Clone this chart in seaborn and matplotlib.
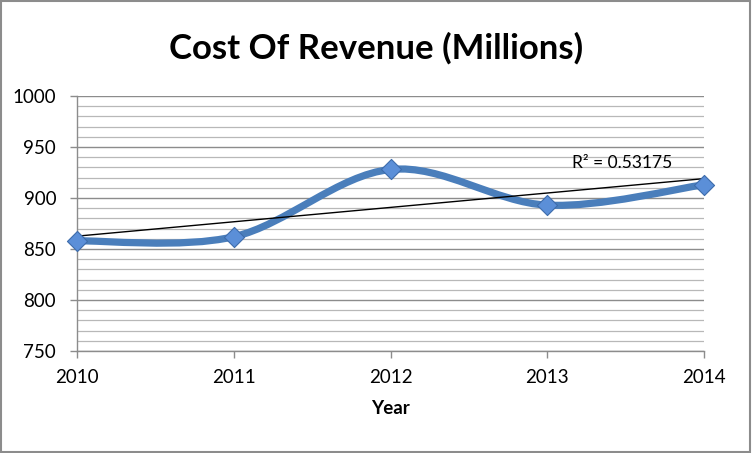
import numpy as np
import pandas as pd
import seaborn as sns
import matplotlib.pyplot as plt
from matplotlib.path import Path
from matplotlib.patches import PathPatch, Rectangle
from matplotlib.ticker import MultipleLocator

years = [2010, 2011, 2012, 2013, 2014]
cost = [858, 862, 928, 893, 913]
r2_label = "R² = 0.53175"

df = pd.DataFrame({"Year": years, "Cost": cost})

sns.set_style("white")
plt.rcParams["font.family"] = ["Lato", "DejaVu Sans"]
plt.rcParams["text.color"] = "black"
plt.rcParams["xtick.color"] = "black"
plt.rcParams["ytick.color"] = "black"
plt.rcParams["axes.labelcolor"] = "black"

fig = plt.figure(figsize=(7.52, 4.53), dpi=100)
ax = fig.add_axes([0.1024, 0.2252, 0.8338, 0.5628])

# grid like the spreadsheet chart
ax.set_ylim(750, 1000)
ax.set_xlim(2010, 2014)
ax.yaxis.set_major_locator(MultipleLocator(50))
ax.yaxis.set_minor_locator(MultipleLocator(10))
ax.set_xticks(years)
ax.grid(which="major", axis="y", color="#8c8c8c", lw=1)
ax.grid(which="minor", axis="y", color="#b8b8b8", lw=0.9)
ax.set_axisbelow(True)

# smoothed line (Catmull-Rom as bezier segments)
pts = np.column_stack([years, cost]).astype(float)
ext = np.vstack([pts[0], pts, pts[-1]])
verts = [tuple(pts[0])]
codes = [Path.MOVETO]
for i in range(len(pts) - 1):
    p0, p1, p2, p3 = ext[i], ext[i + 1], ext[i + 2], ext[i + 3]
    c1 = p1 + (p2 - p0) / 6
    c2 = p2 - (p3 - p1) / 6
    verts += [tuple(c1), tuple(c2), tuple(p2)]
    codes += [Path.CURVE4] * 3
ax.add_patch(PathPatch(Path(verts, codes), fill=False, edgecolor="#4a7ebb",
                       lw=5.2, capstyle="round", joinstyle="round", zorder=3))

# linear trendline
sns.regplot(data=df, x="Year", y="Cost", scatter=False, ci=None, ax=ax,
            line_kws=dict(color="black", lw=1, zorder=4))

sns.scatterplot(data=df, x="Year", y="Cost", marker="D", s=105, color="#5b8fd8",
                edgecolor="#3d6cab", linewidth=0.8, ax=ax, zorder=5, clip_on=False)

ax.text(2013.16, 934, r2_label, fontsize=12.5, ha="left", va="center")

for side in ["top", "right"]:
    ax.spines[side].set_visible(False)
for side in ["left", "bottom"]:
    ax.spines[side].set_color("#8c8c8c")
    ax.spines[side].set_linewidth(1)

ax.tick_params(axis="y", which="major", left=True, length=5, width=1, color="#8c8c8c",
               labelcolor="black", labelsize=13.5, pad=10)
ax.tick_params(axis="y", which="minor", left=False)
ax.tick_params(axis="x", bottom=True, length=5, width=1, color="#8c8c8c",
               labelcolor="black", labelsize=13.5, pad=8)

ax.set_xlabel("Year", fontsize=13.5, fontweight="bold", labelpad=10)
ax.set_ylabel("")
fig.text(0.5, 0.894, "Cost Of Revenue (Millions)", ha="center", va="center",
         fontsize=25, fontweight="bold")

fig.patches.append(Rectangle((0.001, 0.002), 0.997, 0.995, transform=fig.transFigure,
                             fill=False, edgecolor="#8c8c8c", lw=1.5))

fig.savefig("out.png", dpi=100)
